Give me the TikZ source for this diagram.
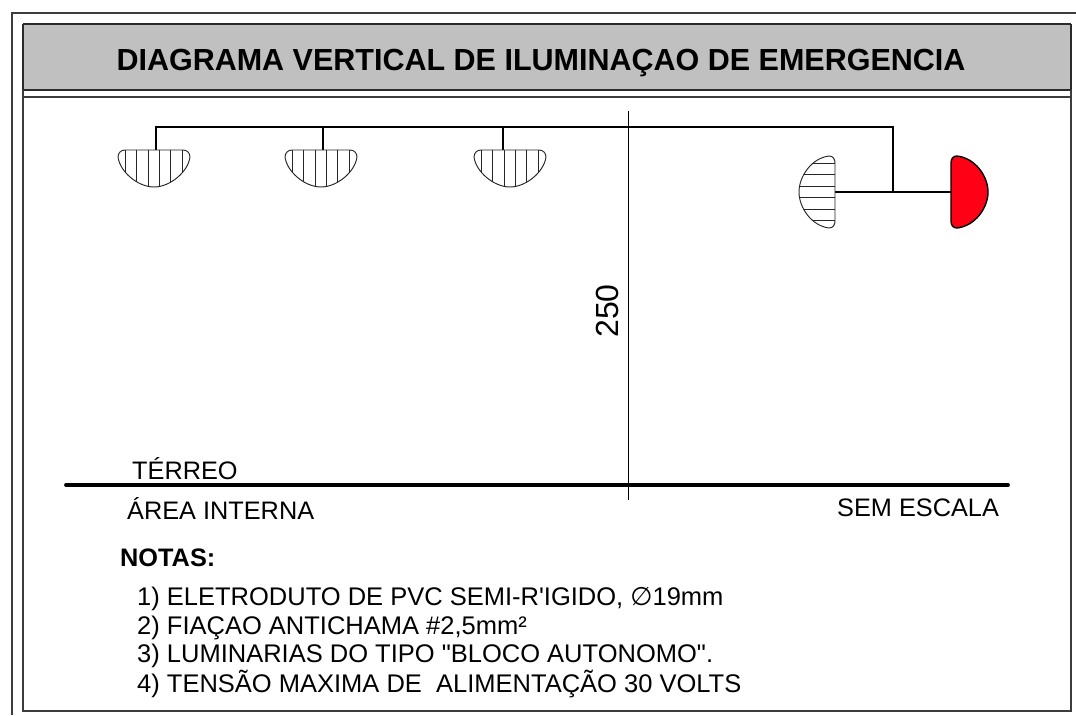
\documentclass[tikz,border=0pt]{standalone}
\usepackage{fontspec}
\setmainfont{Liberation Sans}
\newfontfamily\plainfont{Liberation Sans}
\newfontfamily\symfont{DejaVu Sans}
\definecolor{band}{RGB}{192,192,192}
\definecolor{edge}{RGB}{60,60,60}
\definecolor{lampred}{RGB}{255,0,20}
\tikzset{
  x=1pt,y=-1pt,
  frame/.style={draw=edge,line width=1.4pt},
  heavy/.style={draw=edge!70!black,line width=2pt},
  wire/.style={draw=black,line width=2.8pt},
  thin wire/.style={draw=black,line width=1.1pt},
  hatch/.style={draw=black!85,line width=0.95pt},
  label/.style={inner sep=0pt,anchor=base west,font=\plainfont\fontsize{25.3}{25.3}\selectfont},
  note/.style={label,font=\plainfont\fontsize{25.5}{25.5}\selectfont},
  pics/downlamp/.style={code={
    \begin{scope}
    \clip (-29,0) -- (29,0) .. controls (33,0) and (36,3) .. (36,7)
      .. controls (34,22) and (16,37) .. (0,37) .. controls (-16,37) and (-34,22) .. (-36,7) .. controls (-36,3) and (-33,0) .. (-29,0) -- cycle;
    \foreach \h in {-29,-18,-6,5,16,28}
      \draw[hatch] (\h,0) -- (\h,40);
    \end{scope}
    \draw[hatch] (-29,0) -- (29,0) .. controls (33,0) and (36,3) .. (36,7)
      .. controls (34,22) and (16,37) .. (0,37) .. controls (-16,37) and (-34,22) .. (-36,7) .. controls (-36,3) and (-33,0) .. (-29,0) -- cycle;
  }},
}
\begin{document}
\begin{tikzpicture}
\useasboundingbox (0,0) rectangle (1076,715);
\path[fill=band] (23,24) rectangle (1071,90);
\draw[frame] (1076,13) -- (12,13) -- (12,715);
\draw[heavy] (23,24) -- (1071,24);
\draw[heavy] (23,90) -- (1071,90);
\draw[heavy] (23,24) -- (23,90);
\draw[heavy] (1071,24) -- (1071,90);
\draw[frame] (23,97) -- (1071,97);
\draw[frame] (23,90) -- (23,711) -- (1071,711) -- (1071,90);
\node[inner sep=0pt,anchor=base] (title) at (541,70) {\fontsize{30.5}{30.5}\selectfont\bfseries DIAGRAMA VERTICAL DE ILUMINAÇAO DE EMERGENCIA};

\coordinate (a) at (156,150);
\coordinate (b) at (323,150);
\coordinate (c) at (503,150);
\coordinate (ta) at (156,127);
\coordinate (tb) at (323,127);
\coordinate (tc) at (503,127);
\coordinate (tr) at (893,127);
\coordinate (j) at (893,192);
\coordinate (l) at (835,192);
\coordinate (r) at (951,192);
\draw[wire] (a) -- (ta) -- (tr) -- (j);
\draw[thin wire] (tb) -- (b);
\draw[thin wire] (tc) -- (c);
\draw[wire] (l) -- (r);

\pic at (154,150) {downlamp};
\pic at (321,150) {downlamp};
\pic at (510,150) {downlamp};

% left lamp
\begin{scope}
\clip (829,156) .. controls (833,156) and (835,159) .. (835,163) -- (835,221) .. controls (835,225) and (833,228) .. (829,228)
 .. controls (812,226) and (799,208) .. (799,192) .. controls (799,176) and (812,158) .. (829,156) -- cycle;
\foreach \yy in {163,174,186,197,209,220}
  \draw[hatch] (795,\yy) -- (835,\yy);
\end{scope}
\draw[hatch] (829,156) .. controls (833,156) and (835,159) .. (835,163) -- (835,221) .. controls (835,225) and (833,228) .. (829,228)
 .. controls (812,226) and (799,208) .. (799,192) .. controls (799,176) and (812,158) .. (829,156) -- cycle;
% right lamp
\draw[fill=lampred,draw=black,line width=1.4pt] (957,156) .. controls (953,156) and (951,159) .. (951,163) -- (951,221) .. controls (951,225) and (953,228) .. (957,228)
 .. controls (975,226) and (988,208) .. (988,192) .. controls (988,176) and (975,158) .. (957,156) -- cycle;

\coordinate (vt) at (628,111);
\coordinate (vb) at (628,500);
\draw[draw=black,line width=0.95pt] (vt) -- (vb);
\node[inner sep=0pt,anchor=base,rotate=90] (h) at (618,311) {\fontsize{32}{32}\selectfont 250};

\coordinate (gl) at (66,485);
\coordinate (gr) at (1008,485);
\draw[draw=black,line width=3.8pt,line cap=round] (gl) -- (gr);
\node[label] (t1) at (132,479) {TÉRREO};
\node[label] (t2) at (127,519) {ÁREA INTERNA};
\node[label] (t3) at (837,516) {SEM ESCALA};
\node[label] (t4) at (120,566) {\bfseries NOTAS:};
\node[note] (n1) at (137,605) {1) ELETRODUTO DE PVC SEMI-R'IGIDO, {\symfont ∅}19mm};
\node[note] (n2) at (137,634) {2) FIAÇAO ANTICHAMA \#2,5mm²};
\node[note] (n3) at (137,662) {3) LUMINARIAS DO TIPO "BLOCO AUTONOMO".};
\node[note] (n4) at (137,692) {4) TENSÃO MAXIMA DE \ ALIMENTAÇÃO 30 VOLTS};
\end{tikzpicture}
\end{document}
